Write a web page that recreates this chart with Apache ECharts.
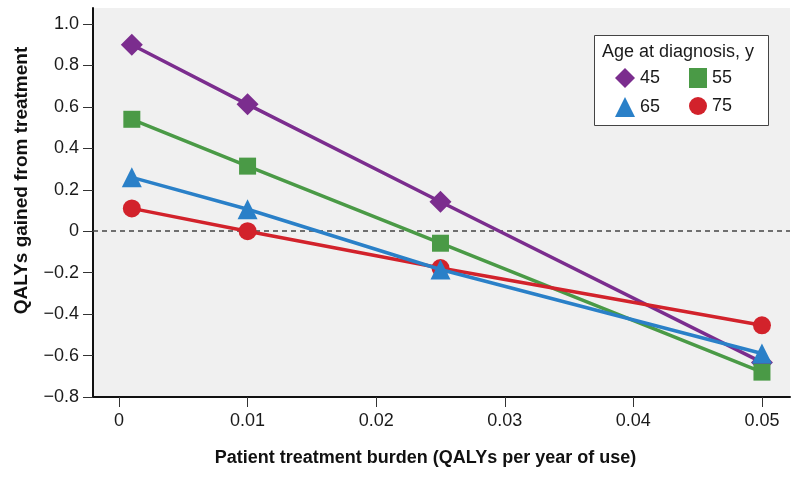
<!DOCTYPE html>
<html>
<head>
<meta charset="utf-8">
<script src="https://cdn.jsdelivr.net/npm/echarts@6/dist/echarts.min.js"></script>
<style>html,body{margin:0;padding:0;background:#fff}#c{width:800px;height:477px}</style>
</head>
<body>
<div id="c"></div>
<script>
const burden = [0.001, 0.01, 0.025, 0.05];
const age45 = [0.90, 0.612, 0.142, -0.633];
const age55 = [0.54, 0.314, -0.058, -0.68];
const age65 = [0.26, 0.106, -0.185, -0.59];
const age75 = [0.11, 0.0, -0.178, -0.454];
const xTicks = [0, 0.01, 0.02, 0.03, 0.04, 0.05];
const yTicks = [-0.8, -0.6, -0.4, -0.2, 0, 0.2, 0.4, 0.6, 0.8, 1.0];
const colors = {'45': '#7B2D8E', '55': '#4A9A46', '65': '#2A80C8', '75': '#D2222B'};
const symbols = {'45': 'diamond', '55': 'rect', '65': 'triangle', '75': 'circle'};
const sizes = {'45': 22, '55': 17, '65': 20, '75': 18};
const valuesBy = {'45': age45, '55': age55, '65': age65, '75': age75};
const drawOrder = ['45', '55', '75', '65'];

const FONT = '"Liberation Sans", Arial, Helvetica, sans-serif';
const chart = echarts.init(document.getElementById('c'), null, {renderer: 'canvas'});

const series = drawOrder.map((k, i) => ({
  name: k,
  type: 'line',
  data: burden.map((x, j) => [x, valuesBy[k][j]]),
  symbol: symbols[k],
  symbolSize: sizes[k],
  lineStyle: {color: colors[k], width: 3.5},
  itemStyle: {color: colors[k]},
  z: 3 + i,
  animation: false,
  markLine: i === 0 ? {
    silent: true, symbol: 'none', label: {show: false},
    lineStyle: {color: '#444', type: [5, 4], width: 1.5},
    data: [{yAxis: 0}],
    z: 1
  } : undefined
}));

function yFmt(v) {
  if (Math.abs(v) < 1e-9) return '0';
  return (v < 0 ? '\u2212' : '') + Math.abs(v).toFixed(1);
}
function xFmt(v) {
  if (Math.abs(v) < 1e-9) return '0';
  return v.toFixed(2);
}

const legendText = {fontFamily: FONT, fontSize: 18, color: '#1a1a1a'};

chart.setOption({
  backgroundColor: '#fff',
  animation: false,
  textStyle: {fontFamily: FONT},
  title: {
    text: 'Age at diagnosis, y',
    left: 594, top: 35,
    padding: [7, 15, 64, 8],
    backgroundColor: '#fff',
    borderColor: '#444', borderWidth: 1,
    textStyle: {fontFamily: FONT, fontSize: 18, fontWeight: 'normal', color: '#1a1a1a', lineHeight: 20},
    z: 6
  },
  legend: [
    {
      left: 615, top: 68, orient: 'vertical', itemGap: 9,
      itemWidth: 20, itemHeight: 20, z: 10, padding: 0,
      textStyle: legendText,
      data: [{name: '45', icon: 'diamond'}, {name: '65', icon: 'triangle'}]
    },
    {
      left: 689, top: 68, orient: 'vertical', itemGap: 9,
      itemWidth: 18, itemHeight: 20, z: 10, padding: 0,
      textStyle: legendText,
      data: [{name: '55', icon: 'rect'}, {name: '75', icon: 'circle'}]
    }
  ],
  grid: {
    left: 93, right: 10, top: 8, bottom: 80,
    show: true, backgroundColor: '#F0F0F0', borderWidth: 0
  },
  xAxis: {
    type: 'value',
    min: -0.00202, max: 0.05218,
    name: 'Patient treatment burden (QALYs per year of use)',
    nameLocation: 'middle', nameGap: 52,
    nameTextStyle: {fontFamily: FONT, fontSize: 18, fontWeight: 'bold', color: '#111', padding: [0, 32, 0, 0]},
    axisLine: {show: true, onZero: false, lineStyle: {color: '#111', width: 2}},
    axisTick: {show: true, length: 10, customValues: xTicks, lineStyle: {color: '#333', width: 1}},
    axisLabel: {customValues: xTicks, formatter: xFmt, fontFamily: FONT, fontSize: 18, color: '#1a1a1a', margin: 15},
    splitLine: {show: false}
  },
  yAxis: {
    type: 'value',
    min: -0.8, max: 1.077,
    name: 'QALYs gained from treatment',
    nameLocation: 'middle', nameGap: 62, nameRotate: 90,
    nameTextStyle: {fontFamily: FONT, fontSize: 19, fontWeight: 'bold', color: '#111', padding: [0, 0, 0, 44]},
    axisLine: {show: true, onZero: false, lineStyle: {color: '#111', width: 2}},
    axisTick: {show: true, length: 10, customValues: yTicks, lineStyle: {color: '#333', width: 1}},
    axisLabel: {customValues: yTicks, formatter: yFmt, fontFamily: FONT, fontSize: 18, color: '#1a1a1a', margin: 14},
    splitLine: {show: false}
  },
  series: series
});
</script>
</body>
</html>
